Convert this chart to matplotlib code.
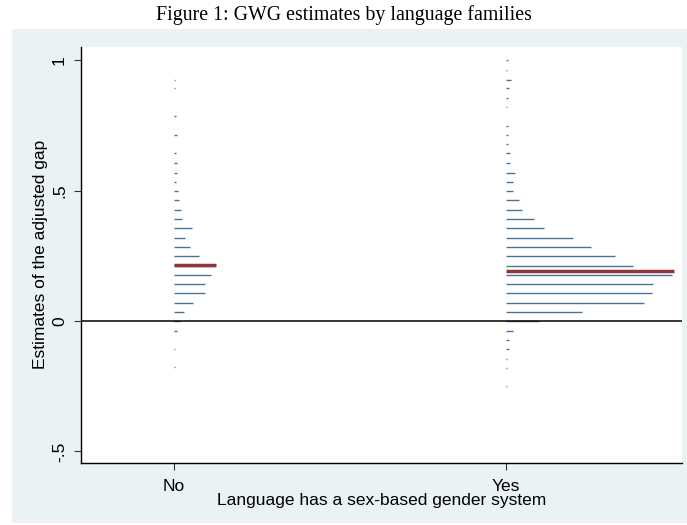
import numpy as np
import matplotlib.pyplot as plt
from matplotlib.patches import Rectangle

# Data: bin centres (GWG estimate) and bar lengths (relative frequency, px-like units)
no_y = [0.925, 0.891, 0.784, 0.712, 0.642, 0.604, 0.567, 0.534, 0.497, 0.463, 0.426,
        0.391, 0.355, 0.318, 0.285, 0.248, 0.212, 0.177, 0.140, 0.107, 0.070, 0.033,
        0.0, -0.037, -0.108, -0.178]
no_freq = [1, 1, 2, 3, 2, 3, 3, 2, 4, 5, 7,
           8, 18, 11, 16, 25, 40, 37, 31, 31, 19, 10,
           6, 3, 1, 1]

yes_y = [0.999, 0.962, 0.925, 0.891, 0.854, 0.821, 0.747, 0.712, 0.677, 0.642, 0.604,
         0.567, 0.534, 0.497, 0.463, 0.426, 0.391, 0.355, 0.318, 0.285, 0.248, 0.212,
         0.177, 0.141, 0.106, 0.070, 0.033, 0.0, -0.038, -0.073, -0.109, -0.146,
         -0.179, -0.249]
yes_freq = [2, 1, 5, 3, 2, 1, 2, 2, 2, 4, 4,
            9, 7, 7, 13, 16, 28, 38, 67, 85, 109, 127,
            166, 147, 146, 138, 76, 33, 7, 3, 3, 1,
            1, 1]

# medians (red markers) and their lengths
median_y = [0.214, 0.192]
median_len = [42, 168]

categories = ["No", "Yes"]
scale = 1 / 332.0   # frequency units -> category spacing

fig = plt.figure(figsize=(6.87, 5.25), dpi=100)
fig.patch.set_facecolor("white")
fig.patches.append(Rectangle((12 / 687, 2 / 525), 1 - 12 / 687, 494 / 525,
                             transform=fig.transFigure, facecolor="#EAF2F3",
                             edgecolor="none", zorder=-5))

ax = fig.add_axes([81 / 687, 1 - 462.7 / 525, 601 / 687, 415.7 / 525])
ax.set_zorder(2)
ax.set_facecolor("white")

bar_color = "#4A7399"
for i, (ys, fr) in enumerate([(no_y, no_freq), (yes_y, yes_freq)]):
    ys = np.array(ys)
    fr = np.array(fr)
    ax.hlines(ys, i, i + fr * scale, color=bar_color, linewidth=1.0, zorder=2)

for i in range(2):
    ax.hlines(median_y[i], i, i + median_len[i] * scale, color="#90353B",
              linewidth=2.5, zorder=3)

ax.axhline(0, color="black", linewidth=1.1, zorder=4)

ax.set_xlim(-0.280, 1.530)
ax.set_ylim(-0.543, 1.050)
ax.set_xticks([0, 1])
ax.set_xticklabels(categories)
ax.set_yticks([-0.5, 0, 0.5, 1])
ax.set_yticklabels(["-.5", "0", ".5", "1"], rotation=90, va="center")

font = "Liberation Sans"
for lab in ax.get_xticklabels() + ax.get_yticklabels():
    lab.set_fontfamily(font)
    lab.set_fontsize(12.5)
ax.tick_params(axis="both", direction="out", length=5, width=0.8, color="#333333")
ax.tick_params(axis="x", pad=7)
ax.tick_params(axis="y", pad=5)

ax.set_xlabel("Language has a sex-based gender system", family=font, fontsize=12.5, labelpad=-1)
ax.set_ylabel("Estimates of the adjusted gap", family=font, fontsize=12.5, labelpad=3)

for side in ["top", "right"]:
    ax.spines[side].set_visible(False)
for side in ["left", "bottom"]:
    ax.spines[side].set_linewidth(1.0)
    ax.spines[side].set_color("black")

fig.text(0.5, 1 - 15 / 525, "Figure 1: GWG estimates by language families",
         family="Liberation Serif", fontsize=14.3, ha="center", va="center")

fig.savefig("out.png", dpi=100)
